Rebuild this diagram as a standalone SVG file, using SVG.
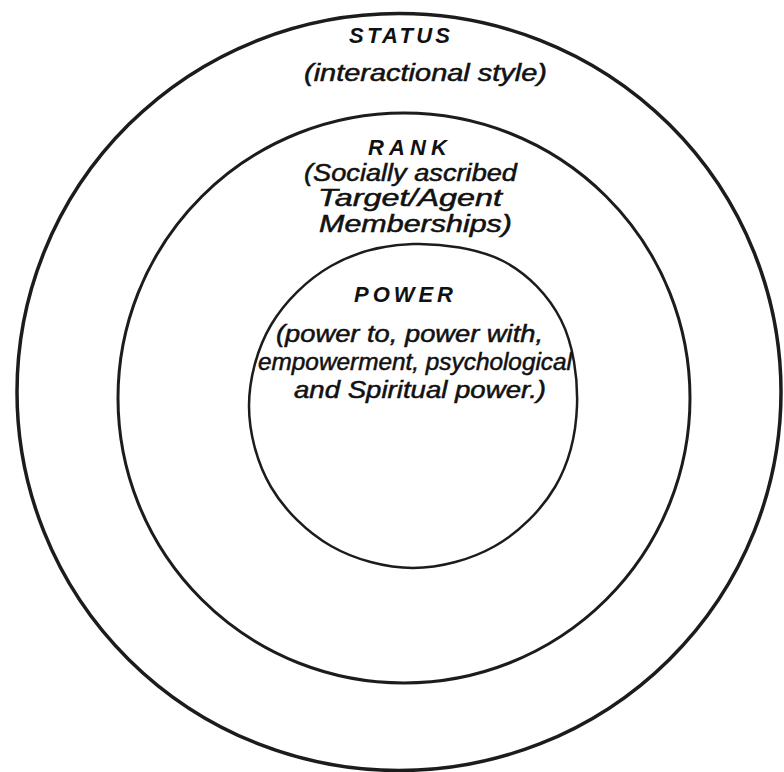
<svg xmlns="http://www.w3.org/2000/svg" width="784" height="772" viewBox="0 0 784 772">
<style>
.ring{fill:none;stroke:#1c1c1c;stroke-linecap:round;stroke-linejoin:round}
.t{font-family:"Liberation Sans","DejaVu Sans",sans-serif;font-style:italic;fill:#111;stroke:#111;stroke-width:0.5;text-anchor:start}
.h{font-size:22px;font-weight:bold;stroke-width:0}
.b{font-size:23px}
</style>
<rect width="784" height="772" fill="#fff"/>
<g id="status">
<ellipse class="ring" cx="399" cy="392" rx="382" ry="378.5" stroke-width="3.5"/>
<text class="t h" x="349" y="43" textLength="101" lengthAdjust="spacing">STATUS</text>
<text class="t b" x="304" y="81" textLength="243" lengthAdjust="spacingAndGlyphs">(interactional style)</text>
</g>
<g id="rank">
<ellipse class="ring" cx="404" cy="398" rx="286" ry="285" stroke-width="3"/>
<text class="t h" x="368" y="155" textLength="79" lengthAdjust="spacing">RANK</text>
<text class="t b" x="304" y="181" textLength="213" lengthAdjust="spacingAndGlyphs">(Socially ascribed</text>
<text class="t b" x="318" y="206" textLength="184" lengthAdjust="spacingAndGlyphs">Target/Agent</text>
<text class="t b" x="319" y="232" textLength="193" lengthAdjust="spacingAndGlyphs">Memberships)</text>
</g>
<g id="power">
<path class="ring" stroke-width="2.5" d="M577,406 C576,433.8 568.7,463.7 555,487 C541.3,510.3 518.7,532.5 495,546 C471.3,559.5 440.3,568 413,568 C385.7,568 354.7,559.5 331,546 C307.3,532.5 284.7,510.3 271,487 C257.3,463.7 249,433 249,406 C249,379 257.3,348.3 271,325 C284.7,301.7 307.3,279.5 331,266 C354.7,252.5 384.3,244.8 413,244 C441.7,243.2 478.3,248.3 503,261 C527.7,273.7 548.7,295.8 561,320 C573.3,344.2 578,378.2 577,406 Z"/>
<text class="t h" x="354" y="302" textLength="99" lengthAdjust="spacing">POWER</text>
<text class="t b" x="276" y="342" textLength="267" lengthAdjust="spacingAndGlyphs">(power to, power with,</text>
<text class="t b" x="258" y="370" textLength="314" lengthAdjust="spacingAndGlyphs">empowerment, psychological</text>
<text class="t b" x="294" y="398" textLength="252" lengthAdjust="spacingAndGlyphs">and Spiritual power.)</text>
</g>
</svg>
